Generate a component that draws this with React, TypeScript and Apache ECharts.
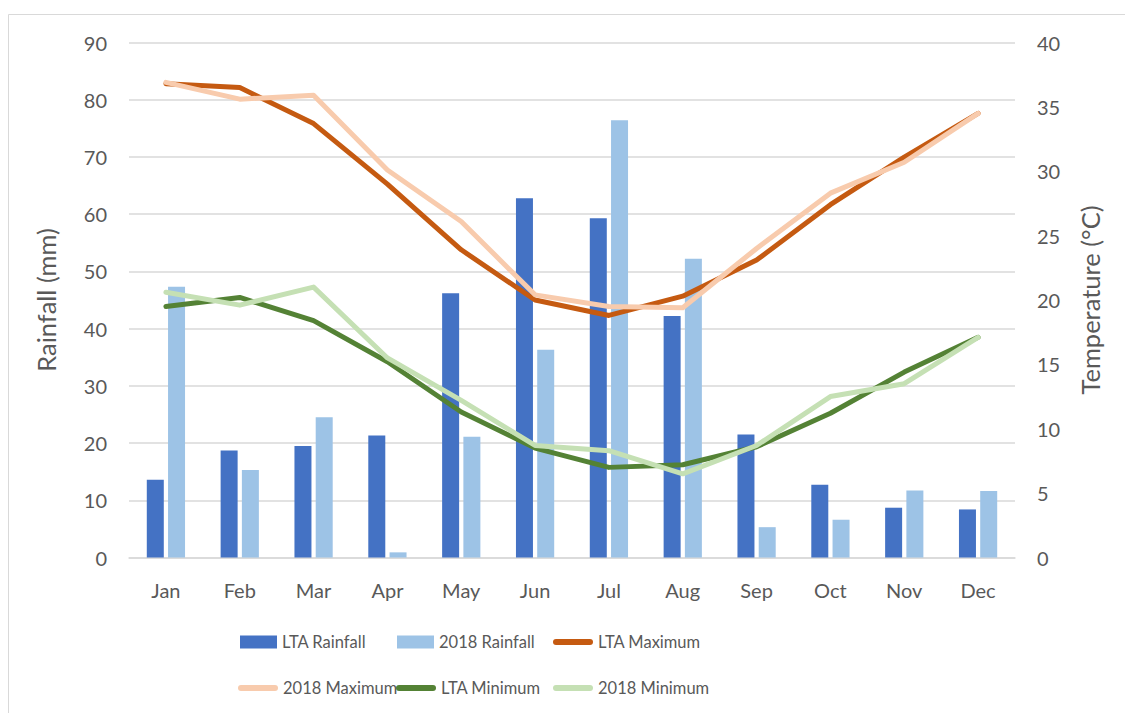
import React, { useEffect, useRef } from "react";
import * as echarts from "echarts";

const months = ["Jan", "Feb", "Mar", "Apr", "May", "Jun", "Jul", "Aug", "Sep", "Oct", "Nov", "Dec"];
const ltaRainfall = [13.6, 18.7, 19.5, 21.3, 46.2, 62.8, 59.3, 42.2, 21.5, 12.7, 8.7, 8.4];
const rain2018 = [47.3, 15.3, 24.5, 0.9, 21.1, 36.3, 76.4, 52.2, 5.3, 6.6, 11.7, 11.6];
const ltaMax = [36.8, 36.5, 33.7, 29.0, 23.9, 20.0, 18.8, 20.3, 23.1, 27.4, 31.1, 34.5];
const max2018 = [36.9, 35.6, 35.9, 30.1, 26.1, 20.4, 19.5, 19.4, 24.0, 28.3, 30.7, 34.5];
const ltaMin = [19.5, 20.2, 18.4, 15.2, 11.3, 8.5, 7.0, 7.2, 8.6, 11.2, 14.4, 17.1];
const min2018 = [20.6, 19.6, 21.0, 15.5, 12.2, 8.7, 8.3, 6.5, 8.7, 12.5, 13.5, 17.1];

const FONT = "Lato";
const TXT = "#595959";
const LINE_ICON = "path://M3,0 H37 A3,3 0 0 1 37,6 H3 A3,3 0 0 1 3,0 Z";

export default function App() {
  const ref = useRef<HTMLDivElement>(null);
  useEffect(() => {
    const chart = echarts.init(ref.current!, null, { renderer: "svg" });
    const lineSeries = (name: string, data: number[], color: string) => ({
      name,
      type: "line",
      yAxisIndex: 1,
      data,
      symbol: "none",
      showSymbol: false,
      lineStyle: { color, width: 5, cap: "round", join: "round" },
      itemStyle: { color },
      z: 3,
    });
    const legendItem = (name: string, left: number, centerY: number, isLine: boolean) => ({
      data: [isLine ? { name, icon: LINE_ICON } : { name, icon: "rect" }],
      left,
      top: centerY - 11,
      padding: 0,
      itemWidth: isLine ? 40 : 37,
      itemHeight: isLine ? 6 : 13,
      selectedMode: false,
      textStyle: { color: TXT, fontSize: 16.5, lineHeight: 22, fontFamily: FONT },
    });
    chart.setOption({
      animation: false,
      textStyle: { fontFamily: FONT },
      graphic: [
        {
          type: "rect",
          shape: { x: 8.5, y: 14.5, width: 1130, height: 720 },
          style: { fill: "none", stroke: "#D9D9D9", lineWidth: 1 },
          silent: true,
        },
      ],
      grid: { left: 129, right: 110, top: 42.5, bottom: 155.5, containLabel: false },
      legend: [
        legendItem("LTA Rainfall", 240, 642, false),
        legendItem("2018 Rainfall", 397, 642, false),
        legendItem("LTA Maximum", 553, 642, true),
        legendItem("2018 Maximum", 238, 688, true),
        legendItem("LTA Minimum", 396, 688, true),
        legendItem("2018 Minimum", 553, 688, true),
      ],
      xAxis: {
        type: "category",
        data: months,
        axisLine: { lineStyle: { color: "#D9D9D9", width: 1.5 } },
        axisTick: { show: false },
        axisLabel: { color: TXT, fontSize: 20, fontFamily: FONT, margin: 22 },
      },
      yAxis: [
        {
          type: "value",
          min: 0,
          max: 90,
          interval: 10,
          name: "Rainfall (mm)",
          nameLocation: "middle",
          nameGap: 70,
          nameTextStyle: { color: TXT, fontSize: 25.5, fontFamily: FONT },
          axisLabel: { color: TXT, fontSize: 20, fontFamily: FONT, margin: 22 },
          splitLine: { lineStyle: { color: "#D9D9D9", width: 1.5 } },
          axisLine: { show: false },
          axisTick: { show: false },
        },
        {
          type: "value",
          min: 0,
          max: 40,
          interval: 5,
          name: "Temperature (°C)",
          nameLocation: "middle",
          nameGap: 62,
          nameRotate: 90,
          nameTextStyle: { color: TXT, fontSize: 25.5, fontFamily: FONT },
          axisLabel: { color: TXT, fontSize: 20, fontFamily: FONT, margin: 22 },
          splitLine: { show: false },
          axisLine: { show: false },
          axisTick: { show: false },
        },
      ],
      series: [
        {
          name: "LTA Rainfall",
          type: "bar",
          data: ltaRainfall,
          barWidth: 17,
          barGap: "25%",
          itemStyle: { color: "#4472C4" },
        },
        {
          name: "2018 Rainfall",
          type: "bar",
          data: rain2018,
          barWidth: 17,
          barGap: "25%",
          itemStyle: { color: "#9DC3E6" },
        },
        lineSeries("LTA Maximum", ltaMax, "#C55A11"),
        lineSeries("2018 Maximum", max2018, "#F8CBAD"),
        lineSeries("LTA Minimum", ltaMin, "#548235"),
        lineSeries("2018 Minimum", min2018, "#C5E0B4"),
      ],
    });
    return () => chart.dispose();
  }, []);
  return (
    <div
      ref={ref}
      style={{ position: "fixed", left: 0, top: 0, width: 1125, height: 713, background: "#fff" }}
    />
  );
}
